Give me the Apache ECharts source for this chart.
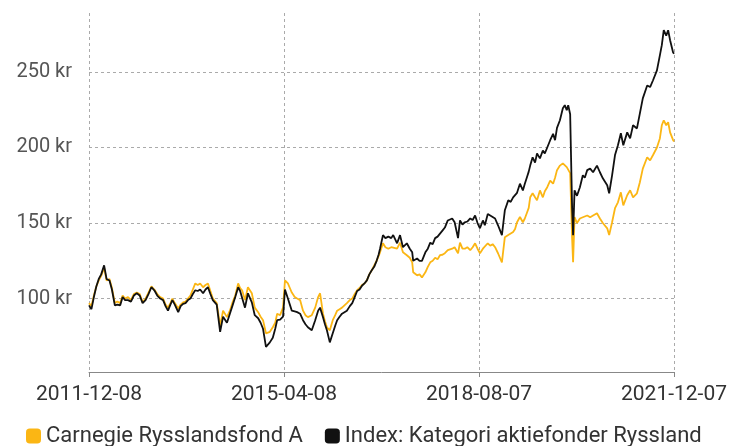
<!DOCTYPE html>
<html lang="sv">
<head>
    <meta charset="UTF-8">
    <title>Carnegie Rysslandsfond A</title>
    <script src="https://cdn.jsdelivr.net/npm/echarts@6/dist/echarts.min.js"></script>
    <style>
        html, body { margin: 0; padding: 0; background: #fff; }
        #chart { width: 739px; height: 446px; }
    </style>
</head>
<body>
    <div id="chart"></div>
    <script>
        // x = months since 2011-12-08
        const months = [
            0, 0.5, 1, 1.5, 2, 2.5, 3.1, 3.6, 4.2, 4.7, 5.3, 5.8, 6.4, 6.9, 7.4, 8, 8.6, 9.2, 9.8, 10.4,
            11, 11.6, 12.2, 12.8, 13.4, 14, 14.6, 15.2, 15.7, 16.2, 16.7, 17.1, 17.6, 18.3, 18.8, 19.3, 19.8, 20.3, 20.8, 21.3,
            21.8, 22.3, 22.8, 23.4, 23.9, 24.4, 24.9, 25.4, 26.2, 26.9, 27.5, 28.3, 28.9, 29.5, 30, 30.6, 31, 31.4, 32, 32.6,
            33.4, 34, 34.7, 35.2, 35.7, 36.3, 37.1, 37.7, 38.2, 38.6, 39.2, 39.8, 40.2, 40.8, 41.2, 41.6, 42.2, 42.7, 43.3, 43.9,
            44.4, 44.9, 45.7, 46.4, 47, 47.4, 48, 48.4, 48.8, 49.4, 50, 50.5, 50.9, 51.4, 51.9, 52.9, 53.5, 54, 54.5, 55,
            55.5, 56, 56.5, 57, 57.5, 58, 58.5, 59, 59.4, 59.7, 60.3, 60.8, 61.4, 62, 62.4, 63.2, 63.8, 64.4, 65.2, 65.8,
            66.3, 66.5, 67.3, 67.8, 68.3, 69, 69.5, 70, 70.5, 71, 71.5, 72, 72.5, 73, 73.6, 74.5, 75, 75.7, 76.1, 76.6,
            77.1, 77.6, 78.2, 78.7, 79.2, 79.7, 80.2, 80.8, 81.2, 81.8, 82.3, 82.8, 83.3, 83.9, 84.7, 85.3, 86, 86.5, 87, 87.4,
            87.8, 88.4, 89, 89.4, 89.8, 90.2, 90.5, 91, 91.5, 91.9, 92.5, 93.1, 93.5, 94, 94.6, 95.2, 95.6, 96, 96.6, 97.2,
            97.6, 98, 98.3, 98.7, 99.1, 99.3, 99.6, 100.1, 100.7, 101.3, 101.7, 102.2, 102.8, 103.4, 104.2, 104.8, 105.4, 106.3, 106.7, 107.3,
            107.9, 108.5, 109.1, 109.6, 110.4, 111, 111.6, 112.4, 113, 113.6, 114.5, 115.1, 115.7, 116.5, 117.1, 117.5, 117.9, 118.4, 118.8, 119.2,
            119.8, 120
        ];
        const carnegie = [
            97, 95, 102, 108, 112, 115, 120.5, 112, 113, 107, 97, 98, 97, 102, 100, 101, 99, 103, 104, 103,
            97.5, 100, 104, 108, 106, 103, 101, 100, 96, 94, 97, 100, 97, 93.5, 96, 97.5, 98, 100, 102, 106,
            110, 109, 110, 107.5, 109, 110, 105, 100, 97, 82, 92, 87.7, 92, 98, 102, 110, 107, 105.5, 99, 107.5,
            103.5, 94, 91, 88, 85.7, 77, 78, 81, 84, 90, 89, 94, 112, 110, 107, 104, 101, 100, 99, 92,
            89, 87.7, 89, 94, 101, 103.5, 90, 85, 81, 79, 85.7, 89, 92, 93, 94, 97, 99, 100, 103, 105.5,
            107, 109, 110, 112, 116, 118.7, 122, 125, 128, 130.6, 136.6, 134, 133, 134, 133.5, 133, 137, 130.6, 128.7, 127,
            124, 117.4, 115.4, 116, 114, 117.4, 121, 124, 125, 127, 126, 128.7, 129, 130, 132, 133, 134, 130, 137, 133,
            133, 134, 132, 134, 136.6, 133, 130, 133, 134, 136.6, 135, 136, 134, 130, 124, 140.6, 142, 143, 144, 146,
            150.5, 154, 150.5, 153, 156.5, 160, 167, 169.7, 167, 165, 171.6, 167, 171, 173.7, 178, 176, 180, 185, 188, 189.5,
            190, 187, 186, 183, 140, 124, 154, 150, 153, 153.8, 155, 155, 153.8, 155, 156.5, 153, 150, 146.5, 142, 150.5,
            159.8, 163.7, 170.3, 161.7, 168.4, 171.7, 167, 169.7, 177, 186, 193.5, 191.5, 195, 200, 206, 214.7, 218, 214.7, 216.7, 210,
            205, 204
        ];
        const kategori = [
            95.5, 93, 101, 108, 113, 116, 122, 113, 112, 106, 95.5, 96, 95.5, 101, 99, 99, 98, 102, 103.5, 102,
            97, 99, 103, 107.5, 105.5, 102, 100, 99, 95, 92, 96, 99, 96, 91, 95, 96.5, 97, 99, 100, 103,
            105.5, 105, 106, 103.5, 106, 107.5, 103, 99, 96, 78, 88, 84, 90, 96, 101, 107.5, 105, 104, 94, 103.5,
            97.5, 89, 87, 84, 80, 68, 71, 74, 80, 85.7, 86, 88, 106, 100, 96, 92, 91.5, 91, 90, 85.7,
            83, 81, 79, 85.7, 92, 94, 87.7, 83, 79, 71, 77, 82, 85.7, 88, 90, 92, 95, 97, 101, 105,
            106, 108.5, 110, 112, 116, 118.7, 121, 125, 129, 133, 142, 140, 141, 140, 142, 136.6, 142, 134, 136.6, 133,
            130.6, 125, 126.5, 125, 125, 130.6, 133, 137, 136, 140, 141, 143, 145, 147, 151.7, 153, 150.5, 140, 151.7, 149,
            150.5, 151, 153, 152, 155, 150, 146.5, 151.7, 148.5, 156, 155, 154, 153, 148.5, 142, 158.4, 165, 164, 167, 166,
            170, 176, 171.6, 176, 180, 184, 188, 193.5, 190, 196, 192.8, 198, 196, 200, 204.8, 209, 204.8, 213, 218, 226,
            228, 224.6, 228, 222, 160, 142, 171.6, 168, 173.7, 181.6, 180, 185, 186, 183.6, 188, 183.6, 179.6, 175, 169.7, 181.6,
            195, 201.5, 209.4, 201.5, 210, 206, 214.7, 212.6, 222.6, 232.5, 241, 240, 244.5, 251, 261, 267.7, 277.6, 274, 277.6, 271,
            263, 262
        ];
        const tickLabels = ['2011-12-08', '2015-04-08', '2018-08-07', '2021-12-07'];
        const yTicks = [100, 150, 200, 250];

        const font = 'Roboto, "Noto Sans", sans-serif';
        const chart = echarts.init(document.getElementById('chart'));
        chart.setOption({
            animation: false,
            grid: { left: 89, right: 65, top: 13, bottom: 74 },
            legend: {
                left: 21, top: 420,
                icon: 'roundRect', itemWidth: 15, itemHeight: 15, itemGap: 22,
                textStyle: { fontFamily: font, fontSize: 22, color: '#333' },
                data: ['Carnegie Rysslandsfond A', 'Index: Kategori aktiefonder Ryssland']
            },
            xAxis: {
                type: 'value', min: 0, max: 120, interval: 40,
                axisLine: { lineStyle: { color: '#888' } },
                axisTick: { show: true, length: 5, lineStyle: { color: '#888' } },
                axisLabel: {
                    margin: 12, fontFamily: font, fontSize: 21, color: '#333',
                    formatter: v => tickLabels[Math.round(v / 40)]
                },
                splitLine: { show: true, lineStyle: { color: '#aaa', type: [3, 3] } }
            },
            yAxis: {
                type: 'value', min: 51.4, max: 289,
                axisLine: { show: false },
                axisTick: { show: false, customValues: yTicks },
                axisLabel: {
                    customValues: yTicks, margin: 17, fontFamily: font, fontSize: 20, color: '#555',
                    formatter: v => v + ' kr'
                },
                splitLine: { show: true, lineStyle: { color: '#aaa', type: [3, 3] } }
            },
            series: [
                {
                    name: 'Carnegie Rysslandsfond A', type: 'line', showSymbol: false,
                    data: months.map((m, i) => [m, carnegie[i]]),
                    itemStyle: { color: '#fbb614' }, lineStyle: { width: 1.8, color: '#fbb614' }
                },
                {
                    name: 'Index: Kategori aktiefonder Ryssland', type: 'line', showSymbol: false,
                    data: months.map((m, i) => [m, kategori[i]]),
                    itemStyle: { color: '#111' }, lineStyle: { width: 1.8, color: '#111' }
                }
            ]
        });
    </script>
</body>
</html>
